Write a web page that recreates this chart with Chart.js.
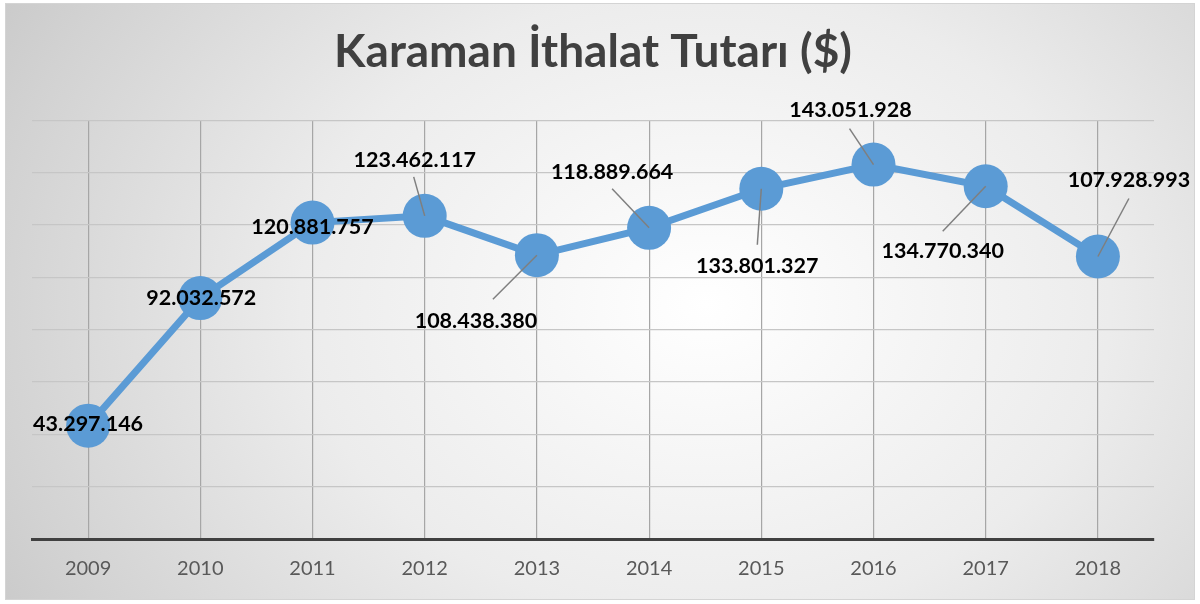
<!DOCTYPE html>
<html>
<head>
<meta charset="utf-8">
<script src="https://cdn.jsdelivr.net/npm/chart.js@4.4.0/dist/chart.umd.min.js"></script>
<style>
  html, body { margin: 0; padding: 0; background: #fff; }
  #frame {
    position: absolute; left: 5px; top: 3px; width: 1190px; height: 597px;
    border: 1px solid #d4d4d4; box-sizing: border-box;
    background: radial-gradient(ellipse 900px 700px at 700px 300px, #ffffff 0%, #ececec 45%, #d2d2d2 80%, #c2c2c2 100%);
  }
  #chart { display: block; }
</style>
</head>
<body>
<div id="frame"><canvas id="chart" width="1188" height="595"></canvas></div>
<script>
const years = ["2009", "2010", "2011", "2012", "2013", "2014", "2015", "2016", "2017", "2018"];
const importValues = [43297146, 92032572, 120881757, 123462117, 108438380, 118889664, 133801327, 143051928, 134770340, 107928993];

// label centre and leader end, relative to each point (pixels)
const labelOffsets = [[0, -2], [1, 0], [0, 4], [-10, -56], [-61, 66], [-37, -56], [-4, 77], [-23, -54], [-43, 65], [31, -76]];
const leaderEnds = [null, null, null, [-11, -39], [-44, 44], [-37, -39], [-4, 56], [-24, -36], [-43, 45], [31, -58]];

function formatDots(n) {
  return String(n).replace(/\B(?=(\d{3})+(?!\d))/g, ".");
}

const pointLabels = {
  id: "pointLabels",
  afterDatasetsDraw(chart) {
    const ctx = chart.ctx;
    const meta = chart.getDatasetMeta(0);
    ctx.save();
    meta.data.forEach((pt, i) => {
      const lead = leaderEnds[i];
      if (lead) {
        ctx.strokeStyle = "#7f7f7f";
        ctx.lineWidth = 1.5;
        ctx.beginPath();
        ctx.moveTo(pt.x, pt.y);
        ctx.lineTo(pt.x + lead[0], pt.y + lead[1]);
        ctx.stroke();
      }
    });
    ctx.font = "bold 21.5px Lato";
    ctx.fillStyle = "#000";
    ctx.textAlign = "center";
    ctx.textBaseline = "middle";
    meta.data.forEach((pt, i) => {
      const off = labelOffsets[i];
      ctx.fillText(formatDots(importValues[i]), pt.x + off[0], pt.y + off[1]);
    });
    ctx.restore();
  }
};

new Chart(document.getElementById("chart"), {
  type: "line",
  data: {
    labels: years,
    datasets: [
      {
        data: importValues,
        borderColor: "#5b9bd5",
        backgroundColor: "#5b9bd5",
        borderWidth: 7,
        pointRadius: 22,
        pointHoverRadius: 22,
        pointBorderWidth: 0,
        tension: 0
      }
    ]
  },
  options: {
    responsive: false,
    animation: false,
    layout: { padding: { left: 26, right: 40, top: 0, bottom: 0 } },
    plugins: {
      legend: { display: false },
      tooltip: { enabled: false },
      title: {
        display: true,
        text: "Karaman İthalat Tutarı ($)",
        color: "#404040",
        font: { family: "Lato", size: 46, weight: "bold" },
        padding: { top: 21, bottom: 40 }
      }
    },
    scales: {
      x: {
        offset: true,
        grid: { offset: false, color: "#a6a6a6", lineWidth: 1.2, drawTicks: false },
        border: { color: "#404040", width: 3 },
        ticks: { color: "#595959", font: { family: "Lato", size: 20 }, padding: 18 }
      },
      y: {
        min: 0,
        max: 160000000,
        ticks: { display: false, stepSize: 20000000 },
        grid: { color: "#c6c6c6", lineWidth: 1.2, drawTicks: false },
        border: { display: false }
      }
    }
  },
  plugins: [pointLabels]
});
</script>
</body>
</html>
